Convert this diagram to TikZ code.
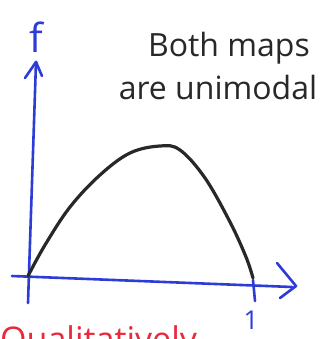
\documentclass[tikz,border=0pt]{standalone}
\usepackage{fontspec}
\setmainfont{Open Sans}
\definecolor{penblue}{RGB}{45,60,215}
\definecolor{penblack}{RGB}{40,40,40}
\definecolor{penred}{RGB}{235,40,60}
\begin{document}
\begin{tikzpicture}[x=1pt,y=-1pt,
  axis/.style={draw=penblue,line width=2.6pt,line cap=round,line join=round},
  curve/.style={draw=penblack,line width=3.2pt,line cap=round},
  note/.style={text=penblack,font=\fontsize{32}{32}\selectfont,inner sep=0pt},
  lbl/.style={text=penblue,inner sep=0pt}]
\useasboundingbox (0,0) rectangle (334,339);
\fill[white] (0,0) rectangle (334,339);
% axes
\coordinate (o) at (28,276);
\coordinate (ybot) at (28,303);
\coordinate (ytop) at (36,62);
\coordinate (xl) at (12,276);
\coordinate (xr) at (292,287);
\draw[axis] (ybot) -- (ytop);
\draw[axis] (25,78) -- (ytop) -- (42,76);
\draw[axis] (xl) -- (xr);
\draw[axis] (277,263) -- (296,286) -- (280,298);
\coordinate (t1) at (253,280);
\coordinate (t2) at (255,301);
\draw[axis] (t1) -- (t2);
\node[lbl,font=\fontsize{40}{40}\selectfont] (f) at (36,37) {f};
\node[lbl,font=\fontsize{26}{26}\selectfont] (one) at (251,320) {1};
% unimodal curve
\draw[curve] plot[smooth,tension=0.6] coordinates {(28,276) (45,245) (70,207) (100,175) (130,153) (160,146) (180,150) (205,178) (230,222) (246,257) (253,278)};
% annotation
\node[note] (t1n) at (229,48) {Both maps};
\node[note] (t2n) at (218,88) {are unimodal};
% cut-off red text
\begin{scope}
\clip (0,0) rectangle (334,339);
\node[text=penred,font=\fontsize{34}{34}\selectfont,anchor=north west,inner sep=0pt] (red) at (0,325) {Qualitatively};
\end{scope}
\end{tikzpicture}
\end{document}
